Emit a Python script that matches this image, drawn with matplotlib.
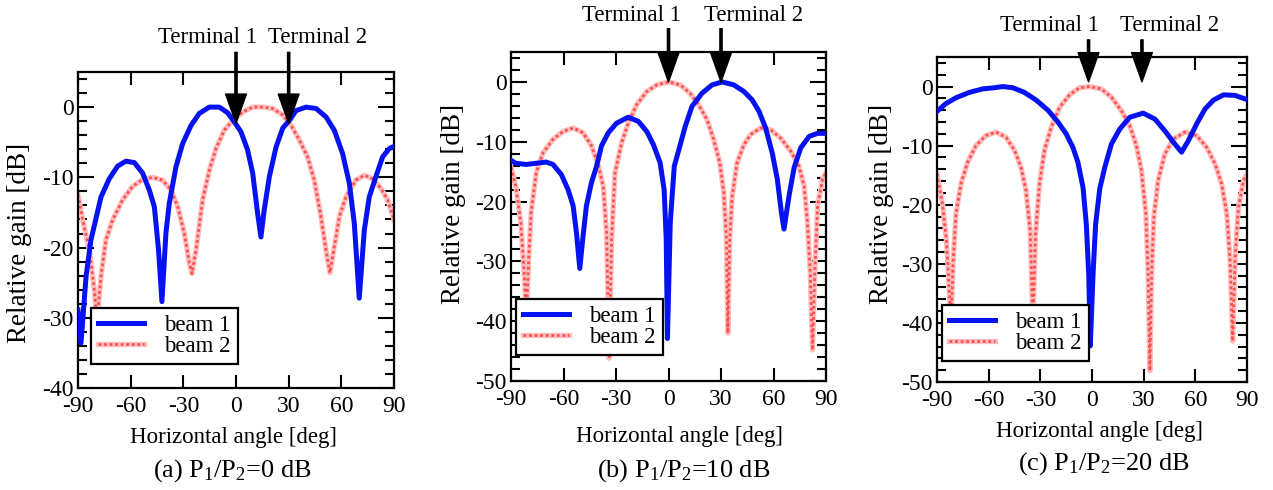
import matplotlib
matplotlib.use("Agg")
import matplotlib.pyplot as plt
from matplotlib.ticker import MultipleLocator

plt.rcParams['font.family'] = ['Liberation Serif', 'DejaVu Serif']
plt.rcParams['mathtext.fontset'] = 'custom'
plt.rcParams['mathtext.rm'] = 'Liberation Serif'
plt.rcParams['axes.unicode_minus'] = False

# ---------------- data ----------------
# (a) P1/P2 = 0 dB
a_b1_deg = [-90, -88.3, -85.4, -82.6, -79.7, -76.9, -72.2, -67.4, -62.7, -57.9, -53.2, -49.4, -46.5, -44.1, -42.2,
            -39.9, -38, -34.2, -30.4, -25.6, -20.9, -15.2, -9.5, -4.8, -1, 2.8, 6.6, 9.5, 12.3, 14.2, 16.1, 19,
            22.8, 26.6, 30.4, 34.2, 39.9, 45.6, 51.3, 56, 60.7, 64.6, 67.4, 70.2, 73.1, 75.9, 79.7, 83.5, 87.3, 90]
a_b1_db = [-28.9, -33.6, -24.1, -18.9, -15.8, -12.8, -10.2, -8.4, -7.7, -7.9, -9.4, -11.8, -14.2, -20.4, -27.7,
           -17.9, -13.7, -8.5, -5.2, -2.6, -0.9, 0, 0, -0.8, -2.1, -3.5, -6.1, -9.4, -15.1, -18.5, -14.6, -9.9,
           -5.7, -3, -1.9, -0.5, 0, -0.2, -1.4, -3.3, -6.6, -10.9, -16.6, -27.2, -17.5, -12.8, -9.9, -7.1, -5.9, -5.6]
a_b2_deg = [-90, -87.3, -83.5, -80.7, -79.2, -76.9, -74.1, -70.3, -64.6, -58.9, -53.2, -47.5, -41.8, -37, -33.2,
            -29.4, -26.6, -25.1, -22.8, -19, -15.2, -11.4, -6.7, -1.9, 3.8, 9.5, 15.2, 20.9, 26.6, 31.4, 36.1,
            40.8, 44.6, 48.4, 51.3, 53.5, 56, 58.9, 62.6, 68.3, 73.1, 77.8, 82.6, 86.4, 90]
a_b2_db = [-12.5, -16.1, -20.4, -26, -30.5, -24.1, -18.9, -16.1, -13.2, -11.3, -10.3, -10, -10.4, -11.8, -14.2,
           -18, -22.2, -23.7, -20.4, -13.2, -9, -5.9, -3.3, -1.9, -0.7, 0, 0, -0.2, -1.1, -2.6, -4.7,
           -7.1, -10.4, -15.6, -20.4, -23.6, -19.9, -15.6, -12.8, -10.4, -9.7, -10.2, -11.6, -13.2, -16]

# (b) P1/P2 = 10 dB
b_b1_deg = [-90, -87.3, -81.3, -75.6, -69.9, -66, -61.2, -57.4, -54.5, -52.6, -50.7, -48.8, -46.9, -44, -41.1,
            -38.3, -34.4, -29.7, -23, -17.2, -12.4, -8.6, -4.8, -2.5, -1.3, -0.6, 1, 3.3, 6.7, 9.6, 13.4, 19.1,
            24.9, 30.6, 37.3, 43.1, 47.8, 51.7, 55.5, 59.3, 62.2, 64.5, 66, 68.9, 71.8, 75.6, 80.4, 85.2, 90]
b_b1_db = [-13.1, -13.6, -13.8, -13.6, -13.4, -13.8, -15.5, -18, -20.7, -25.2, -31.2, -25.7, -20.7, -16.8, -14.1,
           -10.7, -8.5, -6.9, -5.9, -6.6, -8.3, -10.5, -13.5, -18, -26.3, -42.9, -23.5, -14.1, -10.5, -7.4, -4.1, -1.9,
           -0.5, 0, -0.5, -1.6, -3, -4.9, -7.7, -11.9, -16.3, -21.8, -24.6, -19, -14.3, -11, -9.1, -8.6, -8.6]
b_b2_deg = [-90, -87.3, -84.4, -82.5, -81.2, -79.8, -78.5, -75.6, -71.8, -66, -60.3, -54.5, -48.8, -44, -40.2,
            -37.3, -35.4, -33.9, -32.5, -30.6, -26.8, -23, -18.2, -12.4, -6.7, 0, 6.7, 12.4, 17.2, 22, 25.8,
            29.3, 31.6, 33.1, 33.9, 35, 36.4, 39.2, 43.1, 46.9, 52.6, 58.4, 64.1, 69.9, 74.6, 77.5, 79.4, 81,
            82.3, 83.6, 85.2, 88, 90]
b_b2_db = [-14.3, -17.4, -23.5, -31.8, -39, -29, -21.8, -15.2, -11.9, -9.6, -8.3, -7.7, -8.5, -10.7, -13.8,
           -17.4, -25.2, -46.2, -26.3, -15.2, -10.2, -6.9, -3.8, -1.6, -0.5, 0, -0.5, -1.9, -3.8, -6.3, -9.6,
           -13.5, -18.5, -26.3, -42, -26.3, -19.1, -13.5, -10.5, -8.8, -7.7, -8, -9.4, -11.6, -14.1, -17.4, -23.5, -31.8,
           -44.8, -31.8, -20.7, -16.3, -15.2]

# (c) P1/P2 = 20 dB
c_b1_deg = [-90, -84.9, -79, -71.3, -63.5, -56.7, -51.8, -46, -39.2, -32.4, -25.6, -19.8, -15, -11.1, -8.2,
            -5.2, -3.3, -1.9, -1, 0.6, 2.1, 4.5, 7.4, 11.3, 16.1, 21.9, 29.7, 36.5, 42.3, 47.2, 52, 55.9,
            60.8, 65.6, 70.5, 76.3, 83.1, 88.9, 90]
c_b1_db = [-4.2, -2.9, -1.9, -1, -0.4, -0.2, 0, -0.2, -1, -2.3, -4, -6, -8, -10.3, -12.8,
           -17.1, -23.3, -31.8, -43.9, -31.8, -23.3, -17.3, -13.7, -9.7, -7.2, -5.2, -4.5, -5.5, -7.5, -9.4, -11.1, -9.2,
           -6.3, -3.8, -2.3, -1.4, -1.5, -2.1, -2.2]
c_b2_deg = [-90, -86.8, -84.5, -82.9, -81.8, -80.6, -79, -76.1, -72.2, -67.4, -61.6, -55.7, -49.9, -45, -41.2,
            -38.3, -35.9, -34.3, -32.8, -30.5, -27.6, -23.7, -18.8, -13, -7.2, -1.4, 5.4, 11.3, 17.1, 21.9, 25.8,
            28.7, 31.3, 32.6, 33.6, 34.6, 35.9, 38.4, 42.3, 47.2, 54, 60.8, 66.6, 71.5, 75.3, 78.3, 80.2, 81.7,
            83.1, 85, 88, 90]
c_b2_db = [-14.8, -19.9, -26.1, -34.6, -40, -29.5, -21.6, -16.5, -12.8, -10, -8.3, -7.7, -8.6, -10.8, -13.7,
           -17.6, -24.4, -40, -25, -16.5, -10.8, -6.9, -3.5, -1.4, -0.2, 0, -0.4, -1.8, -4.1, -6.6, -10,
           -14.2, -21.6, -31.8, -48.1, -31.8, -22.1, -15.9, -11.4, -8.9, -7.7, -8.3, -10.3, -13.1, -16.5, -21.6, -29.5, -43.1,
           -28.9, -20.5, -15.9, -14.8]

panels = [
    dict(b1=(a_b1_deg, a_b1_db), b2=(a_b2_deg, a_b2_db), ylim=(-40, 5),
         yticks=[0, -10, -20, -30, -40], term_x=(0, 30), tip_y=(-2.3, -2.3),
         top_y=7.8, caption=r'(a) $\mathrm{P_1/P_2}$=0 dB'),
    dict(b1=(b_b1_deg, b_b1_db), b2=(b_b2_deg, b_b2_db), ylim=(-50, 5),
         yticks=[0, -10, -20, -30, -40, -50], term_x=(0, 30), tip_y=(0, 0),
         top_y=8.9, caption=r'(b) $\mathrm{P_1/P_2}$=10 dB'),
    dict(b1=(c_b1_deg, c_b1_db), b2=(c_b2_deg, c_b2_db), ylim=(-50, 5),
         yticks=[0, -10, -20, -30, -40, -50], term_x=(-2, 29), tip_y=(0.8, 0.8),
         top_y=7.9, caption=r'(c) $\mathrm{P_1/P_2}$=20 dB'),
]

# ---------------- layout (pixels) ----------------
W, H = 1273, 490
fig = plt.figure(figsize=(W / 100, H / 100), dpi=100)

def fx(px):
    return px / W

def fy(py):
    return 1 - py / H

axes_px = [(78, 72, 394, 388), (511, 52, 826, 381), (937, 57, 1247, 382)]
legend_pos = [(0.041, 0.076), (0.016, 0.079), (0.016, 0.065)]
term_text = [((207, 43), (318, 43)), ((631, 21), (754, 21)), ((1050, 31), (1170, 31))]
xlabel_pos = [(233, 443), (680, 442), (1100, 437)]
ylabel_pos = [(20, 243), (453, 204), (882, 204)]
caption_pos = [(232, 477), (684, 477), (1104, 470)]

blue = '#0712f2'
pink_base = '#ffbdbd'
pink_dot = '#ff5050'

for i, p in enumerate(panels):
    l, t, r, b = axes_px[i]
    ax = fig.add_axes([fx(l), fy(b), (r - l) / W, (b - t) / H])
    x1, y1 = p['b1']
    x2, y2 = p['b2']
    # beam 2 (pink, textured)
    ax.plot(x2, y2, color=pink_base, lw=3.8, zorder=2)
    ln2, = ax.plot(x2, y2, color=pink_dot, lw=2.0, linestyle=(0, (1, 1)), zorder=2.1)
    # beam 1 (blue)
    ln1, = ax.plot(x1, y1, color=blue, lw=3.6, zorder=3)

    ax.set_xlim(-90, 90)
    ax.set_ylim(*p['ylim'])
    ax.set_xticks([-90, -60, -30, 0, 30, 60, 90])
    ax.set_yticks(p['yticks'])
    ax.yaxis.set_minor_locator(MultipleLocator(2))
    ax.tick_params(axis='both', which='both', direction='in', top=True, right=True,
                   width=1.5, labelsize=17)
    ax.tick_params(axis='x', which='major', length=9.5, pad=6)
    ax.tick_params(axis='y', which='major', length=11.5, pad=3)
    ax.tick_params(axis='y', which='minor', length=6.5)
    for s in ax.spines.values():
        s.set_linewidth(1.6)

    # legend
    h2 = (plt.Line2D([], [], color=pink_base, lw=3.8),
          plt.Line2D([], [], color=pink_dot, lw=2.0, linestyle=(0, (1, 1))))
    leg = ax.legend([ln1, h2], ['beam 1', 'beam 2'], loc='lower left',
                    bbox_to_anchor=legend_pos[i], borderaxespad=0, fancybox=False,
                    framealpha=1, edgecolor='black', fontsize=16.5, handlelength=2.0,
                    handletextpad=0.9, borderpad=0.3, labelspacing=0.0)
    leg.get_frame().set_linewidth(1.6)
    leg.set_zorder(10)

    # terminal arrows
    for tx, ty in zip(p['term_x'], p['tip_y']):
        ax.annotate('', xy=(tx, ty), xytext=(tx, p['top_y']),
                    xycoords='data', textcoords='data', annotation_clip=False,
                    arrowprops=dict(facecolor='black', edgecolor='black',
                                    width=1.6, headwidth=15, headlength=21, shrink=0),
                    zorder=8)

    (t1x, t1y), (t2x, t2y) = term_text[i]
    fig.text(fx(t1x), fy(t1y), 'Terminal 1', fontsize=16.5, ha='center', va='baseline')
    fig.text(fx(t2x), fy(t2y), 'Terminal 2', fontsize=16.5, ha='center', va='baseline')

    xlx, xly = xlabel_pos[i]
    fig.text(fx(xlx), fy(xly), 'Horizontal angle [deg]', fontsize=16.5,
             ha='center', va='baseline')
    ylx, yly = ylabel_pos[i]
    fig.text(fx(ylx), fy(yly), 'Relative gain [dB]', fontsize=19.5, rotation=90,
             ha='center', va='center')
    cx, cy = caption_pos[i]
    fig.text(fx(cx), fy(cy), p['caption'], fontsize=19, ha='center', va='baseline')

fig.savefig('out.png', dpi=100)
